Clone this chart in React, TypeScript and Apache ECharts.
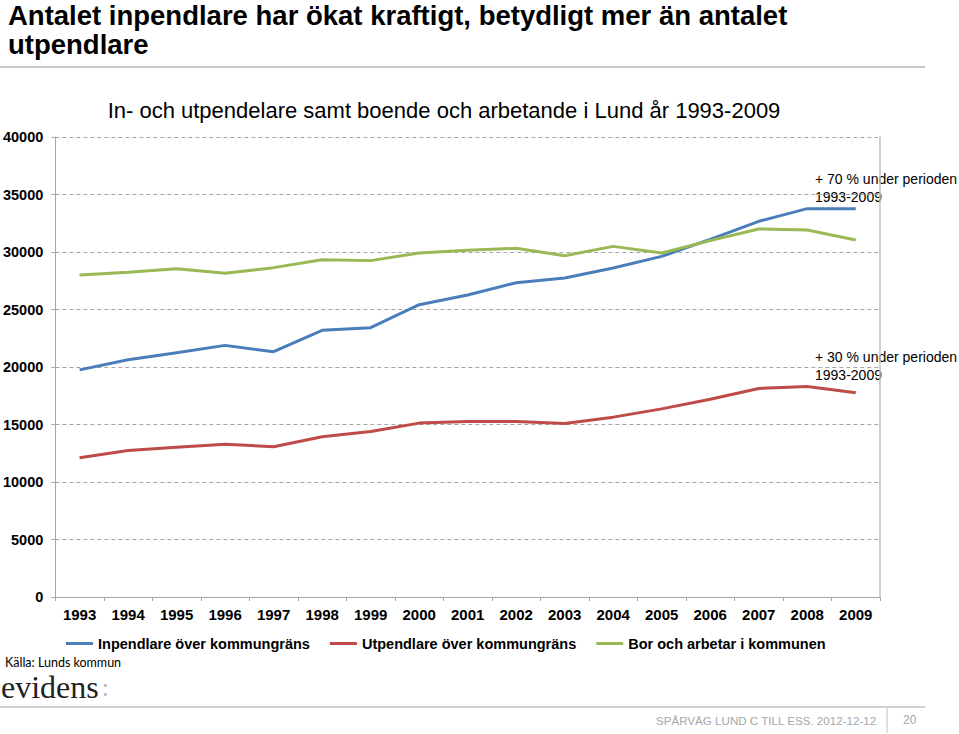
import React, { useEffect, useRef } from "react";
import * as echarts from "echarts";

const years = ["1993","1994","1995","1996","1997","1998","1999","2000","2001","2002","2003","2004","2005","2006","2007","2008","2009"];
const inpendlare = [19750,20630,21245,21880,21330,23185,23420,25420,26260,27330,27740,28610,29620,31100,32670,33770,33770];
const utpendlare = [12100,12740,13030,13290,13060,13930,14390,15120,15270,15260,15090,15640,16360,17200,18130,18310,17760];
const borArbetar = [28000,28230,28550,28150,28640,29330,29250,29920,30160,30320,29680,30490,29910,30990,32000,31910,31040];

const seriesNames = ["Inpendlare över kommungräns", "Utpendlare över kommungräns", "Bor och arbetar i kommunen"];
const seriesColors = ["#4a7ebb", "#be4b48", "#98b954"];

const mainTitle = "Antalet inpendlare har ökat kraftigt, betydligt mer än antalet\nutpendlare";
const chartTitle = "In- och utpendelare samt boende och arbetande i Lund år 1993-2009";
const noteIn = "+ 70 % under perioden\n1993-2009";
const noteUt = "+ 30 % under perioden\n1993-2009";
const source = "Källa: Lunds kommun";
const footer = "SPÅRVÄG LUND C TILL ESS. 2012-12-12";
const pageNo = "20";

const ARIAL = "'Liberation Sans', Arial, sans-serif";

export default function App() {
  const ref = useRef<HTMLDivElement>(null);
  useEffect(() => {
    if (!ref.current) return;
    const chart = echarts.init(ref.current, undefined, { renderer: "svg" });
    const data = [inpendlare, utpendlare, borArbetar];
    chart.setOption({
      animation: false,
      backgroundColor: "#ffffff",
      grid: { left: 54, top: 137, width: 826, height: 460, containLabel: false },
      xAxis: {
        type: "category",
        data: years,
        boundaryGap: true,
        axisLine: { show: true, lineStyle: { color: "#a6a6a6", width: 1 } },
        axisTick: { show: true, interval: 0, length: 4, lineStyle: { color: "#a6a6a6" } },
        axisLabel: { color: "#000", fontFamily: ARIAL, fontWeight: "bold", fontSize: 15, margin: 10, interval: 0 },
      },
      yAxis: [
        {
          type: "value",
          min: 0,
          max: 40000,
          interval: 5000,
          axisLine: { show: true, lineStyle: { color: "#a6a6a6", width: 1 } },
          axisTick: { show: true, length: 4, lineStyle: { color: "#a6a6a6" } },
          axisLabel: {
            color: "#000",
            fontFamily: ARIAL,
            fontWeight: "bold",
            fontSize: 14.5,
            margin: 12,
            formatter: (v: number) => String(v),
          },
          splitLine: { show: true, lineStyle: { color: "#a6a6a6", type: [4, 3], width: 1 } },
        },
        {
          type: "value",
          position: "right",
          min: 0,
          max: 40000,
          interval: 5000,
          axisLine: { show: true, lineStyle: { color: "#c0c0c0", width: 1.5 } },
          axisTick: { show: false },
          axisLabel: { show: false },
          splitLine: { show: false },
        },
      ],
      legend: {
        left: 61,
        top: 631,
        icon: "rect",
        itemWidth: 27,
        itemHeight: 3,
        itemGap: 20,
        textStyle: { color: "#000", fontFamily: ARIAL, fontWeight: "bold", fontSize: 14.5 },
        data: seriesNames,
      },
      series: seriesNames.map((name, i) => ({
        name,
        type: "line",
        data: data[i],
        symbol: "none",
        showSymbol: false,
        lineStyle: { color: seriesColors[i], width: 3 },
        itemStyle: { color: seriesColors[i] },
      })),
      graphic: [
        {
          type: "text",
          x: 8,
          y: 1,
          style: { text: mainTitle, fill: "#000", font: `bold 27.5px ${ARIAL}`, lineHeight: 29 },
        },
        {
          type: "line",
          shape: { x1: 0, y1: 67, x2: 925, y2: 67 },
          style: { stroke: "#c8c8c8", lineWidth: 2 },
        },
        {
          type: "text",
          x: 444,
          y: 110,
          style: { text: chartTitle, fill: "#000", font: `22px ${ARIAL}`, align: "center", verticalAlign: "middle" },
        },
        {
          type: "text",
          x: 815,
          y: 170,
          style: { text: noteIn, fill: "#000", font: `14px ${ARIAL}`, lineHeight: 18 },
        },
        {
          type: "text",
          x: 815,
          y: 348,
          style: { text: noteUt, fill: "#000", font: `14px ${ARIAL}`, lineHeight: 18 },
        },
        {
          type: "text",
          x: 5,
          y: 656,
          style: { text: source, fill: "#000", font: `12.5px Lato, 'Open Sans', sans-serif` },
        },
        {
          type: "text",
          x: 1,
          y: 671,
          style: {
            text: "{a|evidens}{b|:}",
            rich: {
              a: { fill: "#222", font: `32px 'Liberation Serif', serif` },
              b: { fill: "#b0b0b0", font: `26px 'Liberation Serif', serif`, padding: [0, 0, 0, 3] },
            },
          },
        },
        {
          type: "line",
          shape: { x1: 0, y1: 707, x2: 925, y2: 707 },
          style: { stroke: "#c0c0c0", lineWidth: 1.5 },
        },
        {
          type: "line",
          shape: { x1: 887, y1: 708, x2: 887, y2: 733 },
          style: { stroke: "#c0c0c0", lineWidth: 1 },
        },
        {
          type: "text",
          x: 656,
          y: 714,
          style: { text: footer, fill: "#a6a6a6", font: `11.6px ${ARIAL}` },
        },
        {
          type: "text",
          x: 903,
          y: 714,
          style: { text: pageNo, fill: "#a6a6a6", font: `12px ${ARIAL}` },
        },
      ],
    });
    return () => chart.dispose();
  }, []);
  return <div ref={ref} style={{ position: "absolute", left: 0, top: 0, width: 959, height: 734 }} />;
}
